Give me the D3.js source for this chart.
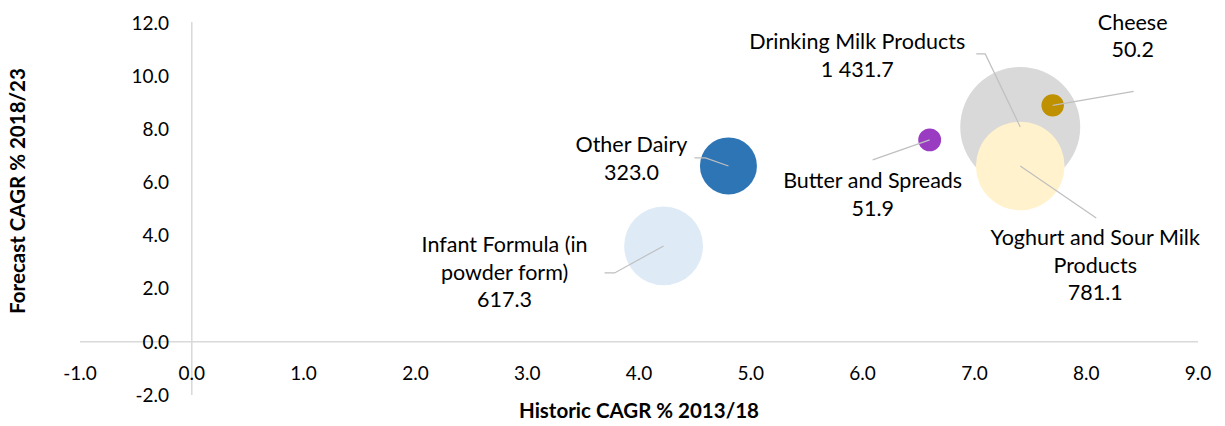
<!DOCTYPE html>
<html>
<head>
<meta charset="utf-8">
<script src="https://cdn.jsdelivr.net/npm/d3@7"></script>
<style>
  body { margin: 0; background: #fff; }
  text { font-family: Lato, "Open Sans", sans-serif; fill: #000; }
</style>
</head>
<body>
<div id="chart"></div>
<script>
// Chart data
const categories = ["Infant Formula (in powder form)", "Other Dairy", "Butter and Spreads",
    "Drinking Milk Products", "Yoghurt and Sour Milk Products", "Cheese"];
const historicCagr = [4.22, 4.80, 6.60, 7.41, 7.41, 7.70];
const forecastCagr = [3.61, 6.62, 7.60, 8.09, 6.62, 8.90];
const marketSize = [617.3, 323.0, 51.9, 1431.7, 781.1, 50.2];
const sizeLabels = ["617.3", "323.0", "51.9", "1 431.7", "781.1", "50.2"];
const xTicks = [-1, 0, 1, 2, 3, 4, 5, 6, 7, 8, 9];
const yTicks = [-2, 0, 2, 4, 6, 8, 10, 12];

// Styling / label layout (pixel offsets from bubble centre)
const colors = ["#DEEBF7", "#2E75B6", "#9A3CC2", "#D9D9D9", "#FFF2CC", "#BF9000"];
const labelLines = [
    ["Infant Formula (in", "powder form)"],
    ["Other Dairy"],
    ["Butter and Spreads"],
    ["Drinking Milk Products"],
    ["Yoghurt and Sour Milk", "Products"],
    ["Cheese"]
];
const labelLayout = [
    {dx: -159, dy: -1, lead: [[-59, 27], [-49, 27]]},
    {dx: -97, dy: -21, lead: [[-34, -8], [-23, -8]]},
    {dx: -57, dy: 41, lead: [[-57, 20]]},
    {dx: -163, dy: -85, lead: [[-44, -73], [-35, -73]]},
    {dx: 75, dy: 72, lead: [[76, 52]]},
    {dx: 80, dy: -83, lead: [[81, -14]]}
];

const width = 1225, height = 426;
const svg = d3.select("#chart").append("svg")
    .attr("width", width)
    .attr("height", height);

const x = d3.scaleLinear().domain([-1, 9]).range([80, 1198]);
const y = d3.scaleLinear().domain([-2, 12]).range([395, 23]);
const r = d3.scaleSqrt().domain([0, d3.max(marketSize)]).range([0, 60]);
const fmt = d => d3.format(".1f")(d).replace("\u2212", "-");

// Axis lines through the origin
svg.append("line")
    .attr("x1", x(-1)).attr("x2", x(9))
    .attr("y1", y(0)).attr("y2", y(0))
    .attr("stroke", "#D9D9D9").attr("stroke-width", 1.5);
svg.append("line")
    .attr("x1", x(0)).attr("x2", x(0))
    .attr("y1", y(12) - 1).attr("y2", y(-2))
    .attr("stroke", "#D9D9D9").attr("stroke-width", 1.5);

// Tick labels
svg.selectAll(".xtick")
    .data(xTicks)
    .enter().append("text")
    .attr("class", "xtick")
    .attr("x", d => x(d))
    .attr("y", 373)
    .attr("dy", "0.35em")
    .attr("text-anchor", "middle")
    .style("font-size", "19px")
    .text(fmt);

svg.selectAll(".ytick")
    .data(yTicks)
    .enter().append("text")
    .attr("class", "ytick")
    .attr("x", 169)
    .attr("y", d => y(d))
    .attr("dy", "0.35em")
    .attr("text-anchor", "end")
    .style("font-size", "19px")
    .text(fmt);

// Axis titles
svg.append("text")
    .attr("x", 639).attr("y", 411)
    .attr("dy", "0.35em")
    .attr("text-anchor", "middle")
    .style("font-size", "20.5px")
    .style("font-weight", "bold")
    .text("Historic CAGR % 2013/18");

svg.append("text")
    .attr("transform", "translate(18,191) rotate(-90)")
    .attr("dy", "0.35em")
    .attr("text-anchor", "middle")
    .style("font-size", "20.5px")
    .style("font-weight", "bold")
    .text("Forecast CAGR %  2018/23");

// Bubbles
const data = categories.map((c, i) => ({
    name: c, hx: historicCagr[i], fy: forecastCagr[i], size: marketSize[i],
    sizeLabel: sizeLabels[i], color: colors[i], lines: labelLines[i], layout: labelLayout[i]
}));

svg.selectAll(".bubble")
    .data(data)
    .enter().append("circle")
    .attr("class", "bubble")
    .attr("cx", d => x(d.hx))
    .attr("cy", d => y(d.fy))
    .attr("r", d => r(d.size))
    .attr("fill", d => d.color);

// Leader lines
const leader = d3.line();
data.forEach(d => {
    const cx = x(d.hx), cy = y(d.fy);
    const pts = d.layout.lead.map(p => [cx + p[0], cy + p[1]]);
    pts.push([cx, cy]);
    svg.append("path")
        .attr("d", leader(pts))
        .attr("fill", "none")
        .attr("stroke", "#BFBFBF")
        .attr("stroke-width", 1.2);
});

// Data labels
data.forEach(d => {
    const cx = x(d.hx), cy = y(d.fy);
    const lines = d.lines.concat([d.sizeLabel]);
    const t = svg.append("text")
        .attr("text-anchor", "middle")
        .style("font-size", "21.5px");
    lines.forEach((l, i) => {
        t.append("tspan")
            .attr("x", cx + d.layout.dx)
            .attr("y", cy + d.layout.dy + i * 27.5)
            .attr("dy", "0.35em")
            .text(l);
    });
});
</script>
</body>
</html>
